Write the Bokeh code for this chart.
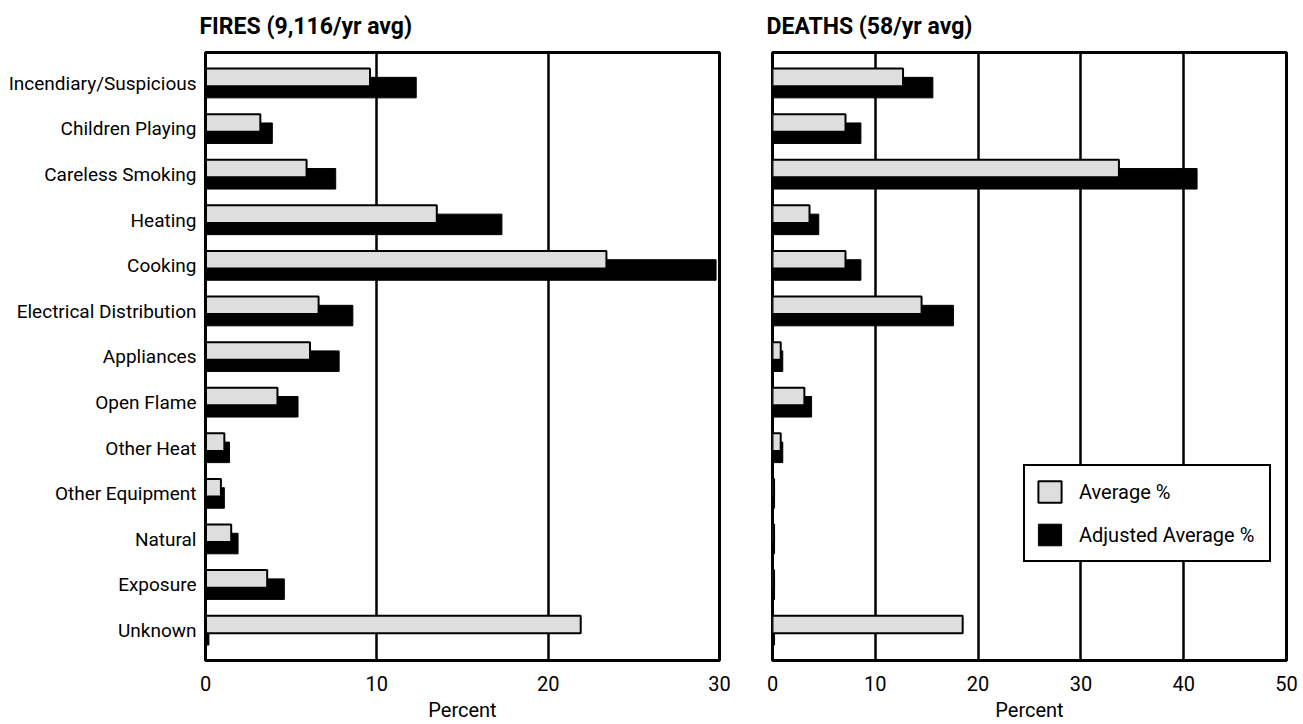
from bokeh.plotting import figure
from bokeh.layouts import row
from bokeh.models import Range1d, FixedTicker, Legend, LegendItem
from bokeh.embed import file_html
from bokeh.resources import INLINE

categories = ["Incendiary/Suspicious", "Children Playing", "Careless Smoking", "Heating",
              "Cooking", "Electrical Distribution", "Appliances", "Open Flame",
              "Other Heat", "Other Equipment", "Natural", "Exposure", "Unknown"]
fires_avg = [9.6, 3.2, 5.9, 13.5, 23.4, 6.6, 6.1, 4.2, 1.1, 0.9, 1.5, 3.6, 21.9]
fires_adj = [12.3, 3.9, 7.6, 17.3, 29.8, 8.6, 7.8, 5.4, 1.4, 1.1, 1.9, 4.6, 0.2]
deaths_avg = [12.7, 7.1, 33.7, 3.6, 7.1, 14.5, 0.8, 3.1, 0.8, 0.15, 0.15, 0.15, 18.5]
deaths_adj = [15.6, 8.6, 41.3, 4.5, 8.6, 17.6, 1.0, 3.8, 1.0, 0.2, 0.2, 0.2, 0.2]
fires_ticks = [0, 10, 20, 30]
deaths_ticks = [0, 10, 20, 30, 40, 50]
fires_title = "FIRES (9,116/yr avg)"
deaths_title = "DEATHS (58/yr avg)"
x_label = "Percent"
legend_labels = ["Average %", "Adjusted Average %"]

FONT = "Roboto"
TFONT = "Roboto"
GRAY = "#dedede"

Y_TOP, Y_BOTTOM = -0.675, 12.66

pos = list(range(len(categories)))
y_gray = [i - 0.13 for i in pos]
y_black = [i + 0.095 for i in pos]


def make_fig(width, xmax, ticks, title, avg, adj, border_left, border_right, show_labels):
    p = figure(width=width, height=724, x_range=Range1d(0, xmax),
               y_range=Range1d(Y_BOTTOM, Y_TOP), output_backend="svg",
               toolbar_location=None, min_border_left=border_left,
               min_border_right=border_right, min_border_top=52, min_border_bottom=60)
    p.title.text = title
    p.title.text_font = TFONT
    p.title.text_font_style = "bold"
    p.title.text_font_size = "23px"
    p.title.text_color = "black"
    p.title.align = "left"
    p.title.vertical_align = "top"
    p.title.offset = -6
    p.title.standoff = 22
    p.outline_line_color = "black"
    p.outline_line_width = 3
    p.outline_line_alpha = 1
    p.background_fill_color = "white"
    p.border_fill_color = "white"

    xa = p.xaxis[0]
    xa.ticker = FixedTicker(ticks=ticks)
    xa.major_tick_line_color = None
    xa.minor_tick_line_color = None
    xa.axis_line_color = "black"
    xa.axis_line_width = 3
    xa.major_label_text_font = FONT
    xa.major_label_text_font_size = "20px"
    xa.major_label_text_color = "black"
    xa.major_label_standoff = 9
    xa.axis_label = x_label
    xa.axis_label_text_font = FONT
    xa.axis_label_text_font_size = "20px"
    xa.axis_label_text_font_style = "normal"
    xa.axis_label_text_color = "black"
    xa.axis_label_standoff = 4

    ya = p.yaxis[0]
    ya.ticker = FixedTicker(ticks=pos)
    ya.major_label_overrides = {i: c for i, c in zip(pos, categories)}
    ya.major_tick_line_color = None
    ya.minor_tick_line_color = None
    ya.axis_line_color = "black"
    ya.axis_line_width = 3
    ya.major_label_text_font = FONT
    ya.major_label_text_font_size = "19px"
    ya.major_label_text_color = "black"
    ya.major_label_standoff = 3
    if not show_labels:
        ya.visible = False

    p.xgrid.ticker = FixedTicker(ticks=ticks)
    p.xgrid.grid_line_color = "black"
    p.xgrid.grid_line_width = 2.5
    p.ygrid.visible = False

    b = p.hbar(y=y_black, left=0, right=adj, height=0.45, fill_color="black",
               line_color="black", line_width=1)
    g = p.hbar(y=y_gray, left=0, right=avg, height=0.385, fill_color=GRAY,
               line_color="black", line_width=2)
    return p, g, b


p1, g1, b1 = make_fig(735, 30, fires_ticks, fires_title, fires_avg, fires_adj, 205, 16, True)
p2, g2, b2 = make_fig(563, 50, deaths_ticks, deaths_title, deaths_avg, deaths_adj, 37, 12, False)

legend = Legend(items=[LegendItem(label=legend_labels[0], renderers=[g2]),
                       LegendItem(label=legend_labels[1], renderers=[b2])],
                location=(251, 98))
legend.glyph_width = 29
legend.glyph_height = 27
legend.label_height = 31
legend.label_width = 180
legend.label_standoff = 15
legend.spacing = 12
legend.padding = 10
legend.margin = 0
legend.border_line_color = "black"
legend.border_line_width = 2
legend.border_line_alpha = 1
legend.background_fill_color = "white"
legend.background_fill_alpha = 1
legend.label_text_font = FONT
legend.label_text_font_size = "20px"
legend.label_text_color = "black"
p2.add_layout(legend)

layout = row(p1, p2, spacing=0)
open("out.html", "w").write(file_html(layout, INLINE))
